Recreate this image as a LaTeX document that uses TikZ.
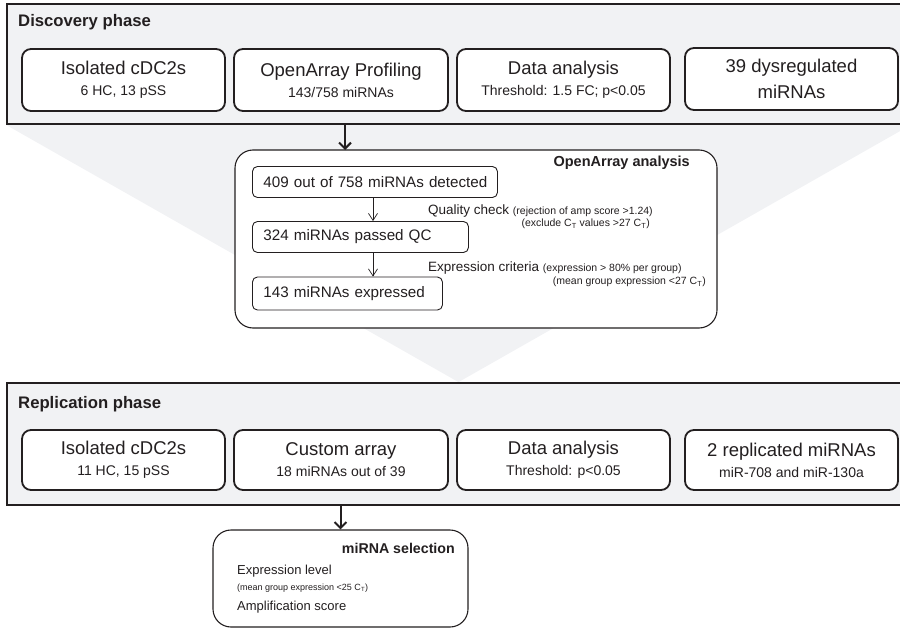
\documentclass[tikz,border=0pt]{standalone}
\usepackage{fontspec}
\setmainfont{Liberation Sans}
\usetikzlibrary{arrows.meta,backgrounds}

\definecolor{ink}{HTML}{231F20}
\definecolor{panelgrey}{HTML}{F1F2F4}

\newcommand{\boxsub}{\fontsize{14}{21}\selectfont}
\newcommand{\smallnote}[1]{{\fontsize{10.5}{12}\selectfont #1}}

\tikzset{
    panel/.style={draw=ink, line width=1.8pt, fill=panelgrey, inner sep=0pt,
        minimum width=903pt},
    phasetitle/.style={anchor=west, inner sep=0pt, text=ink,
        font=\fontsize{16.7}{20}\selectfont\bfseries},
    stepbox/.style={draw=ink, line width=1.8pt, fill=white, rounded corners=9pt,
        align=center, text=ink, inner sep=0pt, minimum width=213pt,
        font=\fontsize{18.5}{21}\selectfont},
    groupbox/.style={draw=ink, line width=1.1pt, fill=white, rounded corners=18pt,
        inner sep=0pt},
    grouptitle/.style={anchor=east, inner sep=0pt, text=ink,
        font=\fontsize{14.5}{17}\selectfont\bfseries},
    countbox/.style={draw=ink, line width=0.9pt, fill=white, rounded corners=5pt,
        anchor=west, text=ink, inner xsep=11pt, minimum height=31pt, align=left,
        font=\fontsize{15.2}{18}\selectfont},
    note/.style={anchor=west, inner sep=0pt, text=ink},
    bigarrow/.style={draw=ink, line width=2pt, -{Straight Barb[length=6pt,width=12pt]}},
    smallarrow/.style={draw=ink, line width=0.7pt, -{Straight Barb[length=7pt,width=9pt]}}
}

\begin{document}
\begin{tikzpicture}[x=1pt, y=-1pt]
    \clip (0,0) rectangle (900,629);

    % Phasen
    \node[panel, minimum height=120pt] (disc) at (458.5,64) {};
    \node[panel, minimum height=122pt] (rep) at (458.5,444) {};
    \begin{scope}[on background layer]
        \fill[panelgrey] (disc.south west) -- (disc.south east) -- (rep.north) -- cycle;
    \end{scope}
    \node[phasetitle] (dtitle) at (18,22) {Discovery phase};
    \node[phasetitle] (rtitle) at (18,404) {Replication phase};

    % Discovery
    \begin{scope}[every node/.append style={stepbox, minimum height=62pt}]
        \node[minimum width=203pt] (D1) at (123.5,80) {Isolated cDC2s\\\boxsub 6 HC, 13 pSS};
        \node[minimum width=214pt] (D2) at (341,80) {OpenArray Profiling\\\boxsub 143/758 miRNAs};
        \node (D3) at (563.5,80) {Data analysis\\\boxsub Threshold: 1.5 FC; p<0.05};
        \node (D4) at (791.5,79) {39 dysregulated\\[5pt]miRNAs};
    \end{scope}

    % Replication
    \begin{scope}[every node/.append style={stepbox, minimum height=60pt}]
        \node[minimum width=203pt] (R1) at (123.5,460) {Isolated cDC2s\\\boxsub 11 HC, 15 pSS};
        \node[minimum width=214pt] (R2) at (341,460) {Custom array\\\boxsub 18 miRNAs out of 39};
        \node (R3) at (563.5,460) {Data analysis\\\boxsub Threshold: p<0.05};
        \node (R4) at (791.5,460) {2 replicated miRNAs\\\boxsub miR-708 and miR-130a};
    \end{scope}

    % OpenArray analysis
    \node[groupbox, minimum width=482pt, minimum height=178pt] (oa) at (476,239) {};
    \node[grouptitle] (oatitle) at (690,163) {OpenArray analysis};
    \node[countbox, text width=223pt] (S1) at (252,182) {\mbox{409 out of 758 miRNAs detected}};
    \node[countbox, text width=194pt] (S2) at (252,237) {\mbox{324 miRNAs passed QC}};
    \node[countbox, text width=168pt, minimum height=33pt] (S3) at (252,293.5) {\mbox{143 miRNAs expressed}};
    \node[note, font=\fontsize{13.5}{16}\selectfont] (qc) at (428,211)
        {Quality check \smallnote{(rejection of amp score >1.24)}};
    \node[note, anchor=east, font=\fontsize{10.5}{12}\selectfont] (qc2) at (650,224)
        {(exclude C\textsubscript{T} values >27 C\textsubscript{T})};
    \node[note, font=\fontsize{13.5}{16}\selectfont] (ec) at (428,268)
        {Expression criteria \smallnote{(expression > 80\% per group)}};
    \node[note, anchor=east, font=\fontsize{10.5}{12}\selectfont] (ec2) at (706,282)
        {(mean group expression <27 C\textsubscript{T})};

    % miRNA selection
    \node[groupbox, minimum width=255pt, minimum height=97pt] (sel) at (340.5,578.5) {};
    \node[grouptitle, font=\fontsize{14.2}{17}\selectfont\bfseries] (seltitle) at (455,548) {miRNA selection};
    \node[note, font=\fontsize{13}{16}\selectfont] (lvl) at (237,571) {Expression level};
    \node[note, font=\fontsize{9}{11}\selectfont] (lvl2) at (237,588) {(mean group expression <25 C\textsubscript{T})};
    \node[note, font=\fontsize{13}{16}\selectfont] (amp) at (237,607) {Amplification score};

    % Pfeile
    \coordinate (in1) at (345,150);
    \draw[bigarrow] (in1 |- disc.south) -- (in1);
    \draw[bigarrow] (rep.south -| sel.north) -- (sel.north);
    \draw[smallarrow] ([xshift=121pt]S1.south west) -- ([xshift=121pt]S2.north west);
    \draw[smallarrow] ([xshift=121pt]S2.south west) -- ([xshift=121pt]S3.north west);
\end{tikzpicture}
\end{document}
